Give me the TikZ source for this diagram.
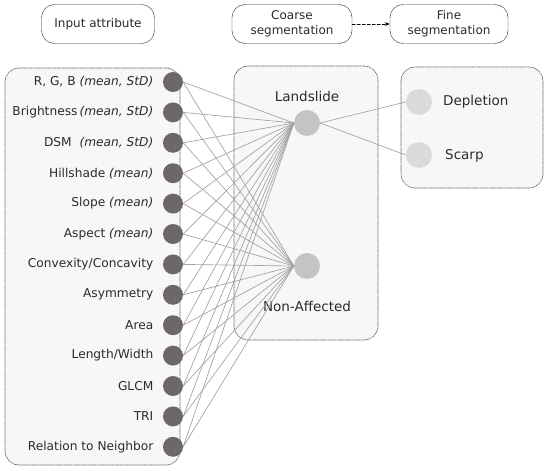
\documentclass[tikz,border=0pt]{standalone}
\usepackage{fontspec}
\setmainfont{DejaVu Sans}
\usepackage{tikz}
\usetikzlibrary{positioning}
\usetikzlibrary{arrows.meta}

\definecolor{txtgray}{HTML}{2B2B2B}
\definecolor{indot}{HTML}{6E6767}
\definecolor{middot}{HTML}{C4C4C4}
\definecolor{outdot}{HTML}{DADADA}
\definecolor{panelfill}{HTML}{F7F7F7}
\definecolor{linkgray}{HTML}{A0A0A0}

\begin{document}
\begin{tikzpicture}[
        x=1pt, y=-1pt,
        line cap=round,
        line join=round,
        font=\fontsize{12.2}{14}\selectfont,
        text=txtgray,
        hdr/.style={draw=txtgray, rounded corners=13pt, minimum width=113pt, minimum height=39pt, align=center, inner sep=1pt, font=\fontsize{12}{15}\selectfont},
        panel/.style={draw=black!65, densely dotted, line width=0.7pt, fill=panelfill, rounded corners=14pt},
        inp/.style={circle, fill=indot, inner sep=0pt, minimum size=20pt},
        cls/.style={circle, fill=middot, inner sep=0pt, minimum size=26pt},
        sub/.style={circle, fill=outdot, inner sep=0pt, minimum size=26pt},
        clslab/.style={font=\fontsize{13.5}{16}\selectfont},
        link/.style={draw=linkgray, line width=0.65pt}
    ]
        \useasboundingbox (0,0) rectangle (550,471);

        % intestazioni
        \node[hdr] (inattr) at (98,24) {Input attribute};
        \node[hdr, minimum width=120pt] (coarse) at (292,24) {Coarse\\segmentation};
        \node[hdr, minimum width=118pt] (fine) at (449,24) {Fine\\segmentation};
        \draw[densely dashed, line width=0.8pt, -{Stealth[length=5pt]}] (coarse) -- (fine);

        % pannelli
        \node[panel, minimum width=175pt, minimum height=397pt] (inpanel) at (92.5,266.5) {};
        \node[panel, minimum width=144pt, minimum height=274pt] (midpanel) at (306,203) {};
        \node[panel, minimum width=142pt, minimum height=121pt] (outpanel) at (472,127.5) {};

        % attributi in ingresso
        \foreach \lab [count=\i] in {%
                {R, G, B \textit{(mean, StD)}},
                {Brightness\,\textit{(mean, StD)}},
                {DSM \ \textit{(mean, StD)}},
                {Hillshade \textit{(mean)}},
                {Slope \textit{(mean)}},
                {Aspect \textit{(mean)}},
                {Convexity/Concavity},
                {Asymmetry},
                {Area},
                {Length/Width},
                {GLCM},
                {TRI},
                {Relation to Neighbor}}{
            \node[inp] (in\i) at (173,{82+30.4*(\i-1)}) {};
            \node[anchor=east, inner sep=0pt] (lab\i) at (153.5,{82+30.4*(\i-1)}) {\lab};
        }

        % classi
        \node[cls] (land) at (307,123) {};
        \node[clslab] (landlab) at (307,96) {Landslide};
        \node[cls] (nonaff) at (307,266) {};
        \node[clslab] (nonafflab) at (307,306) {Non-Affected};

        \node[sub] (depl) at (419,102) {};
        \node[clslab, anchor=west, inner sep=0pt] (depllab) at (443,102) {Depletion};
        \node[sub] (scarp) at (419,155) {};
        \node[clslab, anchor=west, inner sep=0pt] (scarplab) at (445,156) {Scarp};

        % collegamenti
        \foreach \i in {1,...,13}{
            \draw[link] (in\i.east) -- (land.west);
            \draw[link] (in\i.east) -- (nonaff.west);
        }
        \draw[link] (land.east) -- (depl.west);
        \draw[link] (land.east) -- (scarp.west);
    \end{tikzpicture}
\end{document}
